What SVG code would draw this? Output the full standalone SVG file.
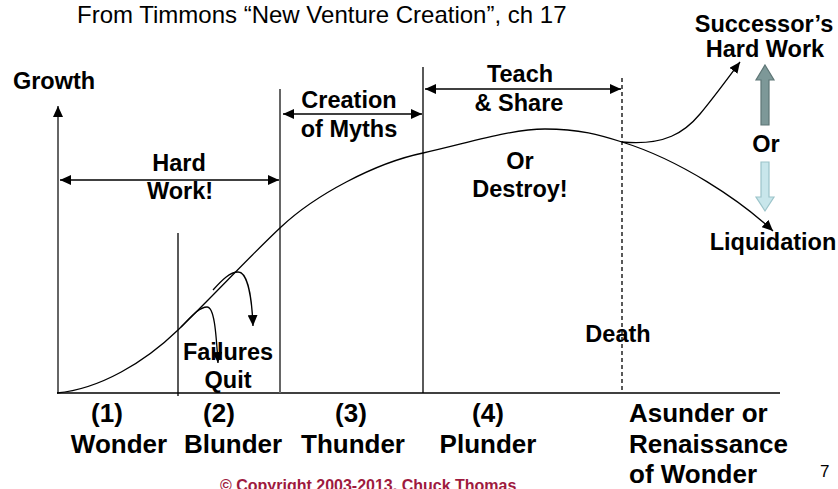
<svg xmlns="http://www.w3.org/2000/svg" width="838" height="489" viewBox="0 0 838 489">
  <style>
    .lbl { font-family: "Liberation Sans", Arial, sans-serif; font-weight: bold; font-size: 23.5px; fill: #000; text-anchor: middle; }
    .stage { font-family: "Liberation Sans", Arial, sans-serif; font-weight: bold; font-size: 26px; fill: #000; text-anchor: middle; }
    .stage.left { text-anchor: start; }
    .title { font-family: "Liberation Sans", Arial, sans-serif; font-size: 24px; fill: #000; }
    .line { fill: none; stroke: #000; stroke-width: 1.3; }
    .axis { fill: none; stroke: #666; stroke-width: 2; }
  </style>
  <defs>
    <marker id="head" markerUnits="userSpaceOnUse" markerWidth="12" markerHeight="10" refX="11" refY="5" orient="auto-start-reverse">
      <path d="M0,0 L11,5 L0,10 Z" fill="#000"/>
    </marker>
  </defs>
  <rect width="838" height="489" fill="#fff"/>

  <text class="title" x="77" y="23">From Timmons “New Venture Creation”, ch 17</text>

  <!-- axes and stage dividers -->
  <g id="axes">
    <line class="axis" x1="58" y1="393" x2="58" y2="106" marker-end="url(#head)"/>
    <line class="line" x1="57" y1="393" x2="780" y2="393" stroke-width="1.6"/>
    <text class="lbl" x="54" y="89">Growth</text>
  </g>

  <g id="dividers">
    <line class="line" x1="178" y1="233" x2="178" y2="396"/>
    <line class="axis" x1="280" y1="89" x2="280" y2="393"/>
    <line class="line" x1="423" y1="67" x2="423" y2="393"/>
    <line class="line" x1="622" y1="78" x2="622" y2="393" stroke-dasharray="4,3"/>
  </g>

  <!-- connectors: growth curve, failure drops, spans -->
  <g id="connectors">
    <path class="line" d="M57,393 C100,389 145,362 178,330 C215,294 250,256 281,227 C315,195 375,163 423,153 C465,144 510,129 545,129 C580,129 600,135 622,142 C680,160 740,200 773,231" marker-end="url(#head)"/>
    <path class="line" d="M622,142 C665,146 685,132 700,114 C715,96 728,78 740,62" marker-end="url(#head)"/>
    <path class="line" d="M181,327 C190,318 199,307 207,307 C214,307 216,330 218,363" marker-end="url(#head)"/>
    <path class="line" d="M213,290 C222,280 230,272 238,272 C248,272 252,300 253,326" marker-end="url(#head)"/>
    <line class="line" x1="60" y1="180" x2="279" y2="180" marker-start="url(#head)" marker-end="url(#head)"/>
    <line class="line" x1="283" y1="114" x2="422" y2="114" marker-start="url(#head)" marker-end="url(#head)"/>
    <line class="line" x1="425" y1="89" x2="621" y2="89" marker-start="url(#head)" marker-end="url(#head)"/>
  </g>

  <g id="hard-work">
    <text class="lbl" x="179" y="171">Hard</text>
    <text class="lbl" x="180" y="199">Work!</text>
  </g>
  <g id="creation-of-myths">
    <text class="lbl" x="349" y="108">Creation</text>
    <text class="lbl" x="349" y="137">of Myths</text>
  </g>
  <g id="teach-share">
    <text class="lbl" x="520" y="82">Teach</text>
    <text class="lbl" x="519" y="111">&amp; Share</text>
  </g>
  <g id="or-destroy">
    <text class="lbl" x="520" y="169">Or</text>
    <text class="lbl" x="520" y="197">Destroy!</text>
  </g>
  <g id="failures-quit">
    <text class="lbl" x="228" y="360">Failures</text>
    <text class="lbl" x="228" y="388">Quit</text>
  </g>
  <g id="death">
    <text class="lbl" x="618" y="342">Death</text>
  </g>

  <g id="successor">
    <text class="lbl" x="764" y="32">Successor’s</text>
    <text class="lbl" x="765" y="57">Hard Work</text>
    <polygon points="765,65 774,80 769,80 769,125 761,125 761,80 756,80" fill="#7D9898" stroke="#5E7676" stroke-width="1.2"/>
  </g>
  <g id="or-choice">
    <text class="lbl" x="766" y="152">Or</text>
  </g>
  <g id="liquidation">
    <polygon points="761,162 769,162 769,197 774,197 765,211 756,197 761,197" fill="#C8E6EB" stroke="#9CC4CA" stroke-width="1.2"/>
    <text class="lbl" x="773" y="250">Liquidation</text>
  </g>

  <!-- stage names under the axis -->
  <g id="stage-1">
    <text class="stage" x="107" y="422">(1)</text>
    <text class="stage" x="119" y="453">Wonder</text>
  </g>
  <g id="stage-2">
    <text class="stage" x="219" y="422">(2)</text>
    <text class="stage" x="233" y="453">Blunder</text>
  </g>
  <g id="stage-3">
    <text class="stage" x="351" y="422">(3)</text>
    <text class="stage" x="353" y="453">Thunder</text>
  </g>
  <g id="stage-4">
    <text class="stage" x="488" y="422">(4)</text>
    <text class="stage" x="488" y="453">Plunder</text>
  </g>
  <g id="stage-5">
    <text class="stage left" x="629" y="422">Asunder or</text>
    <text class="stage left" x="629" y="453">Renaissance</text>
    <text class="stage left" x="629" y="483">of Wonder</text>
  </g>

  <text x="820" y="477" font-family="'Liberation Sans', Arial, sans-serif" font-size="17" fill="#000">7</text>
  <text x="220" y="491" font-family="'Liberation Sans', Arial, sans-serif" font-size="16" font-weight="bold" fill="#9E1A3E">© Copyright 2003-2013, Chuck Thomas</text>
</svg>
